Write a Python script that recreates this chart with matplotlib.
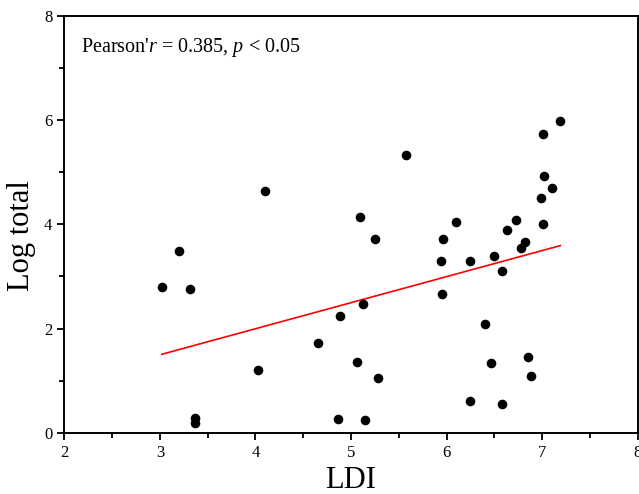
import matplotlib.pyplot as plt
import numpy as np

plt.rcParams['font.family'] = ['Liberation Serif', 'DejaVu Serif']
plt.rcParams['mathtext.fontset'] = 'custom'
plt.rcParams['mathtext.it'] = 'Liberation Serif:italic'
plt.rcParams['mathtext.rm'] = 'Liberation Serif'

ldi = [3.02, 3.20, 3.32, 3.37, 3.37, 4.03, 4.10, 4.65, 4.86, 4.89,
       5.06, 5.09, 5.13, 5.15, 5.25, 5.28, 5.58, 5.94, 5.95, 5.96,
       6.10, 6.25, 6.25, 6.40, 6.46, 6.50, 6.58, 6.58, 6.63, 6.73,
       6.78, 6.82, 6.85, 6.88, 6.99, 7.01, 7.01, 7.02, 7.10, 7.19]
log_total = [2.80, 3.48, 2.75, 0.28, 0.18, 1.20, 4.65, 1.72, 0.26, 2.25,
             1.36, 4.15, 2.47, 0.24, 3.71, 1.06, 5.34, 3.30, 2.66, 3.71,
             4.05, 3.30, 0.60, 2.08, 1.33, 3.40, 3.10, 0.56, 3.89, 4.09,
             3.54, 3.66, 1.45, 1.08, 4.51, 4.01, 5.73, 4.93, 4.69, 5.98]

x = np.array(ldi)
y = np.array(log_total)
slope, intercept = np.polyfit(x, y, 1)
xfit = np.array([x.min(), x.max()])

fig = plt.figure(figsize=(6.39, 4.94), dpi=100)
ax = fig.add_axes([0.1006, 0.124, 0.8974, 0.8436])

ax.scatter(x, y, s=48, color='black', zorder=3, linewidths=0)
ax.plot(xfit, slope * xfit + intercept, color='red', lw=1.2)

ax.set_xlim(2, 8)
ax.set_ylim(0, 8)
ax.set_xticks([2, 3, 4, 5, 6, 7, 8])
ax.set_yticks([0, 2, 4, 6, 8])
ax.set_xticks(np.arange(2.5, 8, 1), minor=True)
ax.set_yticks([1, 3, 5, 7], minor=True)
ax.tick_params(which='major', direction='out', length=5, width=1.3, labelsize=12)
ax.tick_params(which='minor', direction='out', length=3.5, width=1.3)
for sp in ax.spines.values():
    sp.set_linewidth(1.4)

ax.set_xlabel('LDI', fontsize=22, labelpad=4)
ax.set_ylabel('Log total', fontsize=22)
ax.yaxis.set_label_coords(-0.05, 0.472)

ax.text(0.03, 0.925, "Pearson'$r$ = 0.385, $p$ < 0.05", transform=ax.transAxes,
        fontsize=14.5, va='center', ha='left')

fig.savefig('out.png', dpi=100)
